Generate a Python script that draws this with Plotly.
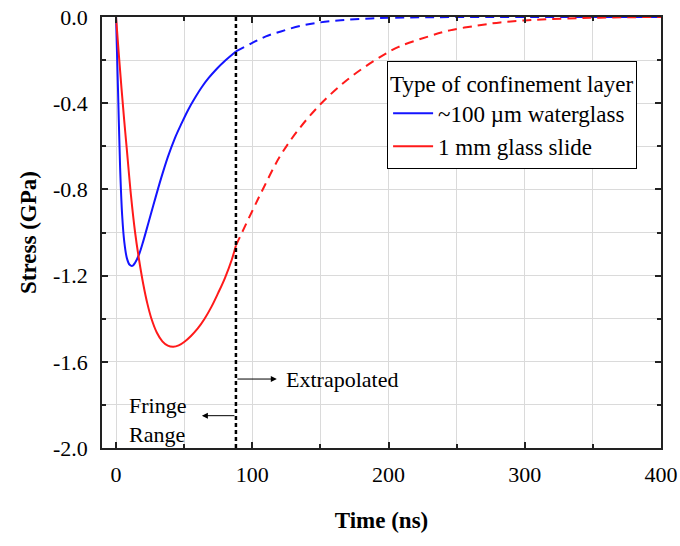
import plotly.graph_objects as go

# ---- data ----
FRINGE_LIMIT = 88  # ns, end of measured fringe range

blue_t_meas = [0, 1.5, 3, 4.5, 6, 8, 10, 12, 14, 17, 20, 24, 28, 33, 38, 43, 48, 53, 58, 63, 68, 74, 80, 88]
blue_v_meas = [0, -0.35, -0.70, -0.92, -1.04, -1.12, -1.15, -1.155, -1.14, -1.10, -1.04, -0.95, -0.86,
               -0.75, -0.65, -0.565, -0.495, -0.43, -0.375, -0.325, -0.283, -0.24, -0.203, -0.16]
blue_t_ext = [88, 100, 110, 121, 135, 150, 165, 182, 200, 230, 270, 320, 400]
blue_v_ext = [-0.16, -0.12, -0.09, -0.067, -0.042, -0.025, -0.015, -0.008, -0.004, -0.001, 0, 0, 0]

red_t_meas = [0, 2, 4, 6, 8, 11, 14, 17, 20, 23, 26, 30, 34, 38, 42, 46, 50, 55, 60, 65, 70, 75, 80, 85, 88]
red_v_meas = [0, -0.17, -0.33, -0.48, -0.62, -0.83, -1.00, -1.13, -1.24, -1.33, -1.40, -1.465, -1.505,
              -1.525, -1.53, -1.524, -1.508, -1.48, -1.445, -1.40, -1.345, -1.28, -1.21, -1.125, -1.06]
red_t_ext = [88, 100, 108.5, 120, 133, 150, 170, 189, 207, 230, 245, 265, 282, 300, 318, 340, 355, 375, 400]
red_v_ext = [-1.06, -0.90, -0.79, -0.65, -0.53, -0.405, -0.29, -0.205, -0.14, -0.089, -0.062, -0.04,
             -0.025, -0.016, -0.01, -0.005, -0.003, -0.001, 0]

series_names = ["~100 \u00b5m waterglass", "1 mm glass slide"]
legend_title = "Type of confinement layer"

x_tickvals = [0, 100, 200, 300, 400]
x_ticktext = ["0", "100", "200", "300", "400"]
y_tickvals = [0.0, -0.4, -0.8, -1.2, -1.6, -2.0]
y_ticktext = ["0.0", "-0.4", "-0.8", "-1.2", "-1.6", "-2.0"]

FONT = "Liberation Serif"
BLUE = "#1414ff"
RED = "#ff1a1a"
FS = 22

fig = go.Figure()
fig.add_trace(go.Scatter(x=blue_t_meas, y=blue_v_meas, mode="lines", name=series_names[0],
                         line=dict(color=BLUE, width=2, shape="spline", smoothing=1.0)))
fig.add_trace(go.Scatter(x=red_t_meas, y=red_v_meas, mode="lines", name=series_names[1],
                         line=dict(color=RED, width=2, shape="spline", smoothing=1.0)))
fig.add_trace(go.Scatter(x=blue_t_ext, y=blue_v_ext, mode="lines", showlegend=False,
                         line=dict(color=BLUE, width=2, dash="9px,6px", shape="spline", smoothing=1.0)))
fig.add_trace(go.Scatter(x=red_t_ext, y=red_v_ext, mode="lines", showlegend=False,
                         line=dict(color=RED, width=2, dash="9px,6px", shape="spline", smoothing=1.0)))

# fringe limit line
fig.add_shape(type="line", x0=FRINGE_LIMIT, x1=FRINGE_LIMIT, y0=0, y1=1, xref="x", yref="paper",
              line=dict(color="black", width=2.5, dash="4px,3px"))

# arrows and labels
fig.add_annotation(x=118, y=-1.68, ax=FRINGE_LIMIT, ay=-1.68, axref="x", ayref="y", text="",
                   showarrow=True, arrowhead=2, arrowsize=1.2, arrowwidth=1, arrowcolor="black")
fig.add_annotation(x=123, y=-1.68, text="Extrapolated", showarrow=False, xanchor="left",
                   font=dict(family=FONT, size=FS, color="black"))
fig.add_annotation(x=63, y=-1.85, ax=FRINGE_LIMIT, ay=-1.85, axref="x", ayref="y", text="",
                   showarrow=True, arrowhead=2, arrowsize=1.2, arrowwidth=1, arrowcolor="black")
fig.add_annotation(x=8, y=-1.87, text="Fringe<br>Range", showarrow=False, xanchor="left", align="left",
                   font=dict(family=FONT, size=FS, color="black"))

axis_common = dict(
    showline=True, linecolor="#222", linewidth=1.5, mirror="ticks",
    ticks="inside", ticklen=6, tickwidth=1.5, tickcolor="#222",
    showgrid=True, gridcolor="#dadada", gridwidth=1, zeroline=False,
    tickfont=dict(family=FONT, size=FS, color="black"), automargin=False,
)

fig.update_xaxes(range=[-10.3, 400], tickvals=x_tickvals, ticktext=x_ticktext,
                 minor=dict(dtick=50, tick0=0, ticks="inside", ticklen=4, tickcolor="#222",
                            showgrid=True, gridcolor="#dadada"),
                 ticklabelstandoff=6,
                 title=dict(text="<b>Time (ns)</b>", font=dict(family=FONT, size=23, color="black"),
                            standoff=26),
                 **axis_common)
fig.update_yaxes(range=[-2.0, 0.0], tickvals=y_tickvals, ticktext=y_ticktext,
                 minor=dict(dtick=0.2, tick0=0, ticks="inside", ticklen=4, tickcolor="#222",
                            showgrid=True, gridcolor="#dadada"),
                 ticklabelstandoff=8,
                 title=dict(text="<b>Stress (GPa)</b>", font=dict(family=FONT, size=23, color="black"),
                            standoff=10),
                 **axis_common)

fig.update_layout(
    width=680, height=546,
    margin=dict(l=102, r=19, t=17, b=98),
    plot_bgcolor="white", paper_bgcolor="white",
    font=dict(family=FONT, size=FS, color="black"),
    legend=dict(x=0.51, y=0.898, xanchor="left", yanchor="top",
                bgcolor="white", bordercolor="black", borderwidth=1,
                title=dict(text=legend_title, font=dict(family=FONT, size=23, color="black")),
                font=dict(family=FONT, size=23, color="black"),
                itemwidth=40, tracegroupgap=0),
)

fig.write_html("out.html")
